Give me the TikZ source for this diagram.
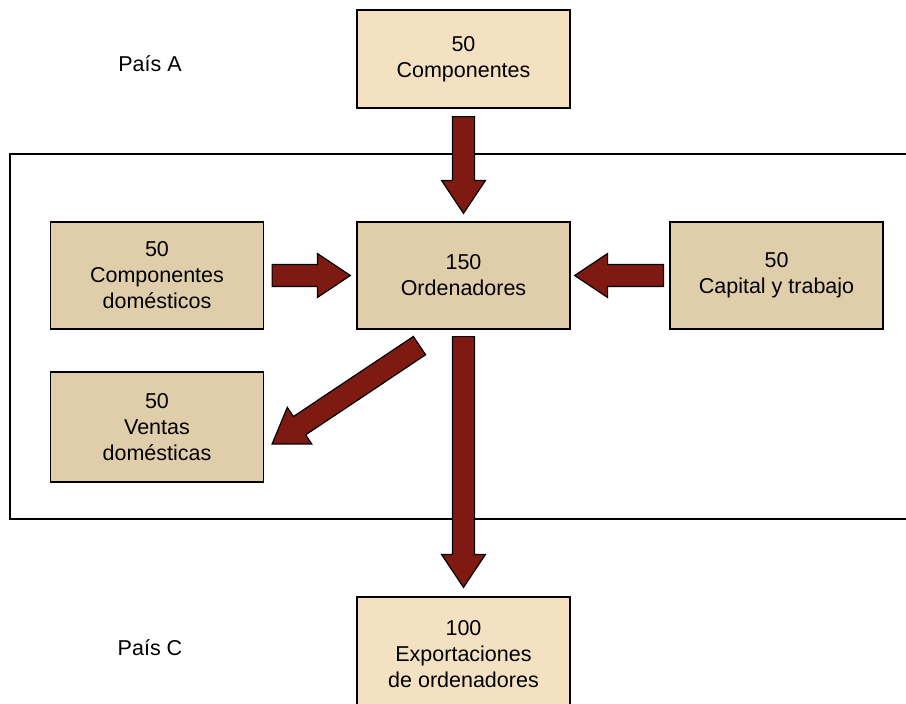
\documentclass[tikz,border=0pt]{standalone}
\usepackage{fontspec}
\setmainfont{Liberation Sans}
\usetikzlibrary{calc}
\definecolor{boxlight}{HTML}{F4E1C1}
\definecolor{boxdark}{HTML}{E0CEAB}
\definecolor{arrowred}{HTML}{7E1A12}
\tikzset{
  box/.style={draw=black, line width=1.2pt, minimum width=213pt, minimum height=107pt, inner sep=0pt, align=center, font=\fontsize{21.5pt}{26pt}\selectfont},
  outbox/.style={box, fill=boxlight},
  inbox/.style={box, fill=boxdark},
  lbl/.style={font=\fontsize{21.5pt}{26pt}\selectfont},
  blockarr/.style={draw=black, line width=1.2pt, fill=arrowred, line join=miter}
}
\newcommand\blockarrow[2]{%
  \path let \p1=(#1), \p2=(#2), \n1={atan2(\y2-\y1,\x2-\x1)}, \n2={veclen(\x2-\x1,\y2-\y1)} in
  [blockarr, shift={(\p1)}, rotate=\n1]
  (0pt,-11pt) -- (\n2-33pt,-11pt) -- (\n2-33pt,-22pt) -- (\n2,0pt) -- (\n2-33pt,22pt) -- (\n2-33pt,11pt) -- (0pt,11pt) -- cycle;}
\begin{document}
\begin{tikzpicture}[x=1pt,y=-1pt]
\useasboundingbox (0,0) rectangle (906,704);
% outer frame (open on the right)
\draw[line width=1.2pt] (960,154) -- (10,154) -- (10,519) -- (960,519);
\node[outbox, minimum height=98pt] (top) at (463.5,59) {50\\Componentes};
\node[inbox] (mid) at (463.5,275.5) {150\\Ordenadores};
\node[inbox] (left) at (157,275.5) {50\\Componentes\\domésticos};
\node[inbox] (right) at (776.5,275.5) {50\\Capital y trabajo};
\node[inbox, minimum height=110pt] (ventas) at (157,427) {50\\Ventas\\domésticas};
\node[outbox, minimum height=114pt] (bottom) at (463.5,654) {100\\Exportaciones\\de ordenadores};
\node[lbl] (paisA) at (150,64) {País A};
\node[lbl] (paisC) at (150,648) {País C};
% arrow end points
\coordinate (a1s) at ($(top.south)+(0,8)$);
\coordinate (a1e) at ($(mid.north)+(0,-8)$);
\coordinate (a2s) at ($(left.east)+(8,0)$);
\coordinate (a2e) at ($(mid.west)+(-6,0)$);
\coordinate (a3s) at ($(right.west)+(-6,0)$);
\coordinate (a3e) at ($(mid.east)+(4,0)$);
\coordinate (a4s) at ($(mid.south)+(-44,16)$);
\coordinate (a4e) at ($(ventas.east)+(8,17)$);
\coordinate (a5s) at ($(mid.south)+(0,7)$);
\coordinate (a5e) at ($(bottom.north)+(0,-9)$);
\blockarrow{a1s}{a1e}
\blockarrow{a2s}{a2e}
\blockarrow{a3s}{a3e}
\blockarrow{a4s}{a4e}
\blockarrow{a5s}{a5e}
\end{tikzpicture}
\end{document}
